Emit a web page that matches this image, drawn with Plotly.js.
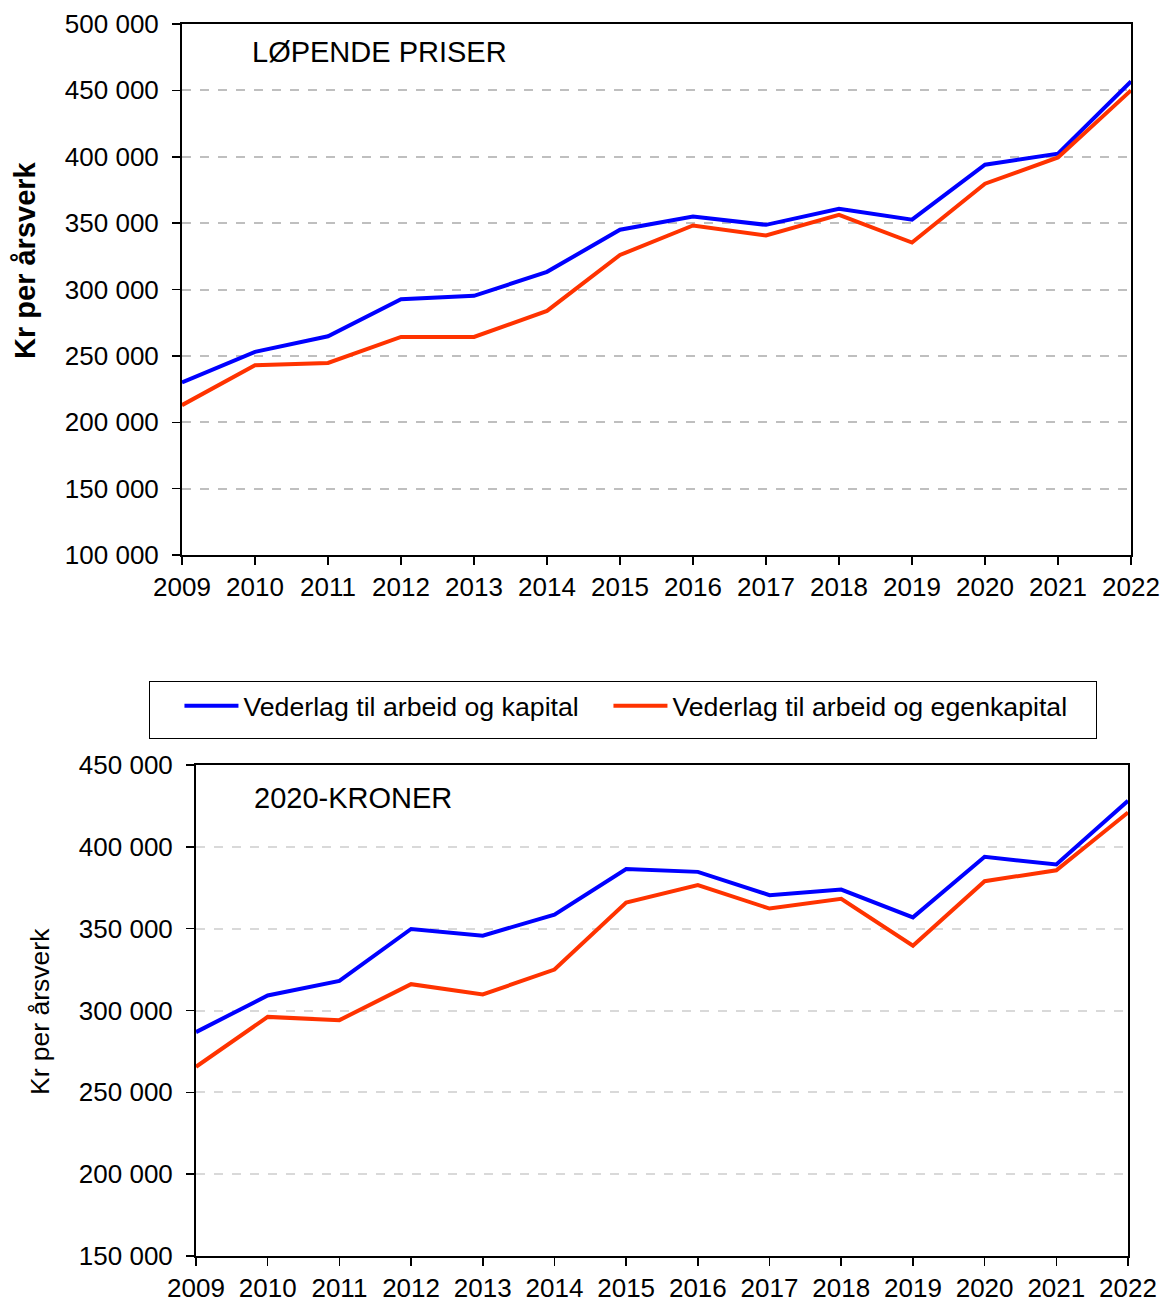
<!DOCTYPE html>
<html>
<head>
<meta charset="utf-8">
<script src="https://cdn.plot.ly/plotly-3.0.1.min.js"></script>
<style>
  html, body { margin: 0; padding: 0; background: #fff; }
  #chart { width: 1165px; height: 1302px; }
</style>
</head>
<body>
<div id="chart"></div>
<script>
const years = [2009, 2010, 2011, 2012, 2013, 2014, 2015, 2016, 2017, 2018, 2019, 2020, 2021, 2022];

// Løpende priser
const lopKapital    = [230000, 253000, 264800, 292700, 295200, 313300, 345000, 355000, 348700, 360800, 352600, 394000, 402300, 456800];
const lopEgenkap    = [212900, 243000, 244700, 264300, 264300, 283900, 326000, 348200, 340700, 356300, 335400, 379700, 399500, 450000];

// 2020-kroner
const kr2020Kapital = [286800, 309200, 318100, 349800, 345700, 358600, 386400, 384700, 370500, 373900, 356900, 393900, 389200, 428100];
const kr2020Egenkap = [265600, 296100, 294100, 316100, 309800, 325000, 365900, 376600, 362300, 368200, 339600, 379000, 385700, 421000];

const seriesNames = ['Vederlag til arbeid og kapital', 'Vederlag til arbeid og egenkapital'];
const panelTitles = ['LØPENDE PRISER', '2020-KRONER'];
const yTitle = 'Kr per årsverk';

const BLUE = '#0000FF';
const RED = '#FF3300';
const FONT = 'Liberation Sans, Arial, sans-serif';
const W = 1165, H = 1302;

const px = v => v / W;
const py = v => (H - v) / H;

const traces = [
  { x: years, y: lopKapital, xaxis: 'x', yaxis: 'y', mode: 'lines', name: seriesNames[0],
    line: { color: BLUE, width: 4 }, showlegend: true, legendgroup: 'a', legendwidth: 360 },
  { x: years, y: lopEgenkap, xaxis: 'x', yaxis: 'y', mode: 'lines', name: seriesNames[1],
    line: { color: RED, width: 4 }, showlegend: true, legendgroup: 'b', legendwidth: 418 },
  { x: years, y: kr2020Kapital, xaxis: 'x2', yaxis: 'y2', mode: 'lines', name: seriesNames[0],
    line: { color: BLUE, width: 4 }, showlegend: false, legendgroup: 'a' },
  { x: years, y: kr2020Egenkap, xaxis: 'x2', yaxis: 'y2', mode: 'lines', name: seriesNames[1],
    line: { color: RED, width: 4 }, showlegend: false, legendgroup: 'b' }
];

const tickFont = { family: FONT, size: 26, color: '#000' };

function xAxis(domain, anchor) {
  return {
    domain: domain, anchor: anchor, range: [2009, 2022],
    tickmode: 'linear', tick0: 2009, dtick: 1, tickformat: 'd',
    ticks: 'outside', ticklen: 8, tickwidth: 1.5, tickcolor: '#000',
    showline: true, linecolor: '#000', linewidth: 2, mirror: true,
    showgrid: false, zeroline: false, tickfont: tickFont, fixedrange: true
  };
}
function xAxisInner(over, anchor) {
  return {
    overlaying: over, anchor: anchor, range: [2009, 2022],
    tickmode: 'linear', tick0: 2009, dtick: 1,
    ticks: 'inside', ticklen: 8, tickwidth: 1.5, tickcolor: '#000',
    showticklabels: false, showline: false, showgrid: false, zeroline: false, fixedrange: true
  };
}
function yAxis(domain, anchor, range, gridcolor) {
  return {
    domain: domain, anchor: anchor, range: range,
    tickmode: 'linear', tick0: range[0], dtick: 50000, tickformat: ',d',
    ticks: 'outside', ticklen: 8, tickwidth: 1.5, tickcolor: '#000',
    ticklabelstandoff: 8,
    showline: true, linecolor: '#000', linewidth: 2, mirror: true,
    showgrid: true, gridcolor: gridcolor, gridwidth: 2, griddash: 'dash',
    zeroline: false, tickfont: tickFont, fixedrange: true
  };
}

const layout = {
  width: W, height: H,
  margin: { l: 0, r: 0, t: 0, b: 0 },
  paper_bgcolor: '#fff', plot_bgcolor: '#fff',
  separators: ', ',
  font: { family: FONT, color: '#000' },
  xaxis: xAxis([px(182), px(1131)], 'y'),
  yaxis: yAxis([py(555), py(24)], 'x', [100000, 500000], '#BFBFBF'),
  xaxis2: xAxis([px(196), px(1128)], 'y2'),
  yaxis2: yAxis([py(1256), py(765)], 'x2', [150000, 450000], '#D9D9D9'),
  xaxis3: xAxisInner('x', 'y'),
  xaxis4: xAxisInner('x2', 'y2'),
  showlegend: true,
  legend: {
    orientation: 'h', x: px(149), y: py(681), xanchor: 'left', yanchor: 'top',
    bordercolor: '#000', borderwidth: 1, bgcolor: '#fff',
    font: { family: FONT, size: 26.7, color: '#000' },
    title: { text: '\u00a0\u00a0', side: 'left', font: { family: FONT, size: 35, color: '#000' } },
    entrywidthmode: 'pixels', itemwidth: 54, traceorder: 'normal'
  },
  annotations: [
    { text: panelTitles[0], xref: 'paper', yref: 'paper', x: px(250), y: py(52),
      xanchor: 'left', yanchor: 'middle', showarrow: false,
      font: { family: FONT, size: 29, color: '#000' } },
    { text: panelTitles[1], xref: 'paper', yref: 'paper', x: px(252), y: py(798),
      xanchor: 'left', yanchor: 'middle', showarrow: false,
      font: { family: FONT, size: 29, color: '#000' } },
    { text: '<b>' + yTitle + '</b>', xref: 'paper', yref: 'paper', x: px(25), y: py(260),
      xanchor: 'center', yanchor: 'middle', textangle: -90, showarrow: false,
      font: { family: FONT, size: 29, color: '#000' } },
    { text: yTitle, xref: 'paper', yref: 'paper', x: px(40), y: py(1012),
      xanchor: 'center', yanchor: 'middle', textangle: -90, showarrow: false,
      font: { family: FONT, size: 26.5, color: '#000' } }
  ]
};

Plotly.newPlot('chart', traces, layout, { displayModeBar: false, staticPlot: true });
</script>
</body>
</html>
